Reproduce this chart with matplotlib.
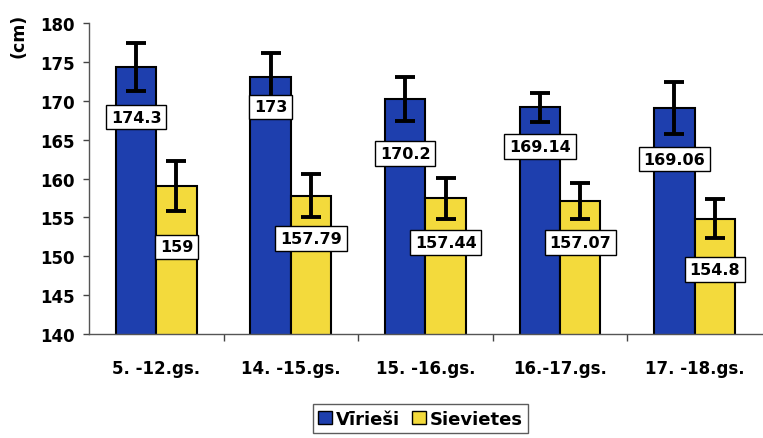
import numpy as np
import matplotlib.pyplot as plt
from matplotlib.patches import Patch

plt.rcParams['font.family'] = ['DejaVu Sans']
plt.rcParams['font.weight'] = 'bold'

# age groups and mean heights
groups = ['5. -12.gs.', '14. -15.gs.', '15. -16.gs.', '16.-17.gs.', '17. -18.gs.']
men = [174.3, 173, 170.2, 169.14, 169.06]
women = [159, 157.79, 157.44, 157.07, 154.8]
men_err = [3.1, 3.2, 2.8, 1.9, 3.3]
women_err = [3.2, 2.8, 2.6, 2.3, 2.5]
men_lbl = ['174.3', '173', '170.2', '169.14', '169.06']
women_lbl = ['159', '157.79', '157.44', '157.07', '154.8']

# where each value box sits (data units)
men_box_y = [167.9, 169.2, 163.2, 164.1, 162.5]
women_box_y = [151.2, 152.3, 151.8, 151.8, 148.3]

blue = '#1e3fae'
yellow = '#f3da3c'

fig = plt.figure(figsize=(7.63, 4.39), dpi=100)
ax = fig.add_axes([0.1166, 0.2369, 0.882, 0.7084])

x = np.arange(len(groups))
w = 0.30
ebar = dict(ecolor='black', elinewidth=2.8, capsize=7, capthick=2.8)
ax.bar(x - w / 2, men, w, bottom=0, color=blue, edgecolor='black', linewidth=1.5,
       yerr=men_err, error_kw=ebar, zorder=2)
ax.bar(x + w / 2, women, w, bottom=0, color=yellow, edgecolor='black', linewidth=1.5,
       yerr=women_err, error_kw=ebar, zorder=2)

box = dict(boxstyle='square,pad=0.3', facecolor='white', edgecolor='black', linewidth=1.0)
for i in range(len(groups)):
    ax.text(x[i] - w / 2, men_box_y[i], men_lbl[i], ha='center', va='center',
            fontsize=11.5, fontweight='bold', bbox=box, zorder=4)
    ax.text(x[i] + w / 2, women_box_y[i], women_lbl[i], ha='center', va='center',
            fontsize=11.5, fontweight='bold', bbox=box, zorder=4)

ax.set_ylim(140, 180)
ax.set_yticks(np.arange(140, 181, 5))
ax.set_xlim(-0.5, len(groups) - 0.5)
ax.set_xticks(x)
ax.set_xticklabels(groups, fontsize=12, fontweight='bold')
ax.tick_params(axis='x', length=0, pad=18)
ax.set_xticks(np.arange(0.5, len(groups) - 0.5, 1), minor=True)
ax.tick_params(axis='x', which='minor', length=5, width=1, color='#444444')
ax.tick_params(axis='y', labelsize=12, length=4, width=1, color='#444444', pad=6)
for t in ax.get_yticklabels():
    t.set_fontweight('bold')

for s in ['top', 'right']:
    ax.spines[s].set_visible(False)
for s in ['left', 'bottom']:
    ax.spines[s].set_color('#555555')
    ax.spines[s].set_linewidth(1.0)

fig.text(0.024, 0.918, '(cm)', rotation=90, ha='center', va='center',
         fontsize=12.5, fontweight='bold')

handles = [Patch(facecolor=blue, edgecolor='black', label='Vīrieši'),
           Patch(facecolor=yellow, edgecolor='black', label='Sievietes')]
leg = fig.legend(handles=handles, loc='center', bbox_to_anchor=(0.551, 0.044), ncol=2,
                 frameon=True, fancybox=False, handlelength=0.75,
                 handleheight=0.75, handletextpad=0.2, columnspacing=0.7,
                 borderpad=0.3, prop={'weight': 'bold', 'size': 13})
leg.get_frame().set_edgecolor('#333333')
leg.get_frame().set_linewidth(1.0)

fig.savefig('out.png', dpi=100)
